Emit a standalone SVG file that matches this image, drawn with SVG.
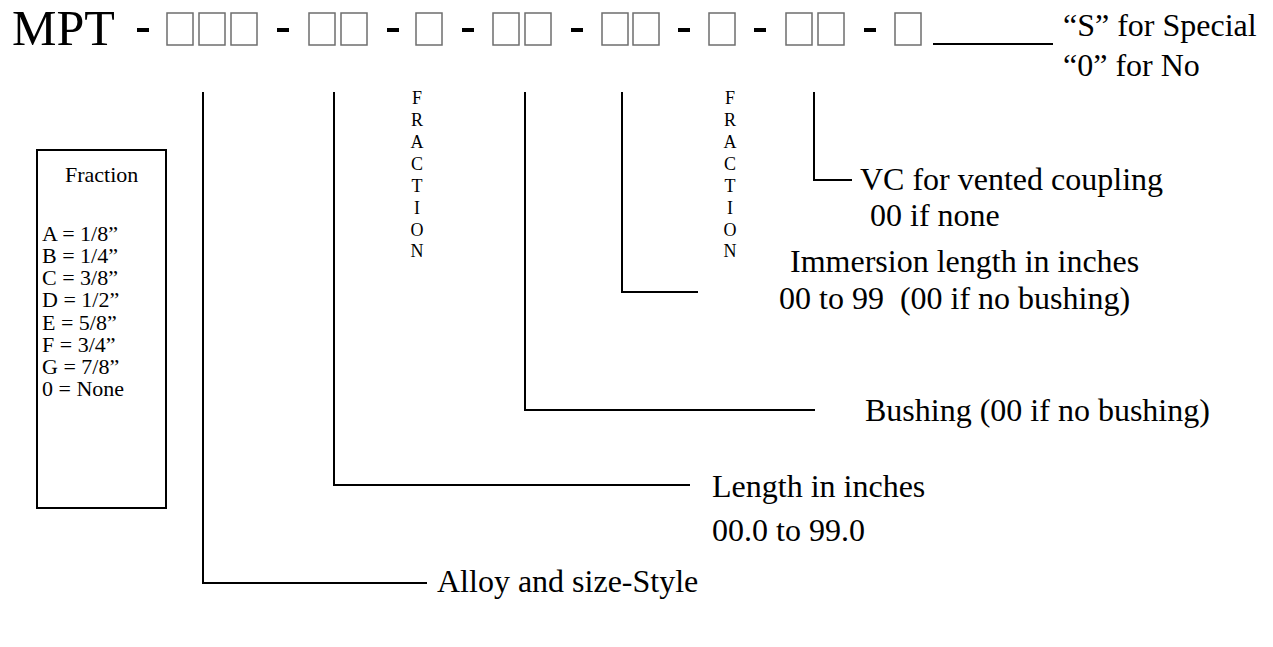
<svg xmlns="http://www.w3.org/2000/svg" width="1273" height="647" viewBox="0 0 1273 647">
<style>
text{font-family:"Liberation Serif","Times New Roman",serif;fill:#000}
.lbl{font-size:32px}
.box{fill:none;stroke:#6e6e6e;stroke-width:1.5}
.dash{fill:#000}
.conn{fill:none;stroke:#000;stroke-width:2}
.vt{font-size:18px;text-anchor:middle}
.fr{font-size:22px}
</style>
<rect width="1273" height="647" fill="#fff"/>
<g id="code">
<text x="12" y="45" font-size="50">MPT</text>
<rect class="dash" x="137" y="28" width="12" height="4"/>
<rect class="box" x="167" y="13" width="26" height="32"/>
<rect class="box" x="199" y="13" width="26" height="32"/>
<rect class="box" x="231" y="13" width="26" height="32"/>
<rect class="dash" x="277" y="28" width="12" height="4"/>
<rect class="box" x="309" y="13" width="26" height="32"/>
<rect class="box" x="341" y="13" width="26" height="32"/>
<rect class="dash" x="387" y="28" width="12" height="4"/>
<rect class="box" x="416" y="13" width="26" height="32"/>
<rect class="dash" x="462" y="28" width="12" height="4"/>
<rect class="box" x="493" y="13" width="26" height="32"/>
<rect class="box" x="525" y="13" width="26" height="32"/>
<rect class="dash" x="571" y="28" width="12" height="4"/>
<rect class="box" x="602" y="13" width="26" height="32"/>
<rect class="box" x="633" y="13" width="26" height="32"/>
<rect class="dash" x="678" y="28" width="12" height="4"/>
<rect class="box" x="709" y="13" width="26" height="32"/>
<rect class="dash" x="754" y="28" width="12" height="4"/>
<rect class="box" x="786" y="13" width="26" height="32"/>
<rect class="box" x="818" y="13" width="26" height="32"/>
<rect class="dash" x="864" y="28" width="12" height="4"/>
<rect class="box" x="895" y="13" width="26" height="32"/>
</g>
<g id="connectors">
<line class="conn" x1="933" y1="44" x2="1053" y2="44"/>
<polyline class="conn" points="203,92 203,583 427,583"/>
<polyline class="conn" points="334,92 334,485 690,485"/>
<polyline class="conn" points="525,92 525,410 815,410"/>
<polyline class="conn" points="622,92 622,292 698,292"/>
<polyline class="conn" points="814,92 814,180 852,180"/>
</g>
<g id="special">
<text class="lbl" x="1063" y="36">“S” for Special</text>
<text class="lbl" x="1063" y="76">“0” for No</text>
</g>
<g id="fraction1">
<text class="vt"><tspan x="417" y="104">F</tspan><tspan x="417" y="126">R</tspan><tspan x="417" y="148">A</tspan><tspan x="417" y="170">C</tspan><tspan x="417" y="192">T</tspan><tspan x="417" y="214">I</tspan><tspan x="417" y="236">O</tspan><tspan x="417" y="257">N</tspan></text>
</g>
<g id="fraction2">
<text class="vt"><tspan x="730" y="104">F</tspan><tspan x="730" y="126">R</tspan><tspan x="730" y="148">A</tspan><tspan x="730" y="170">C</tspan><tspan x="730" y="192">T</tspan><tspan x="730" y="214">I</tspan><tspan x="730" y="236">O</tspan><tspan x="730" y="257">N</tspan></text>
</g>
<g id="vc">
<text class="lbl" x="860" y="190">VC for vented coupling</text>
<text class="lbl" x="870" y="226">00 if none</text>
</g>
<g id="immersion">
<text class="lbl" x="790" y="272">Immersion length in inches</text>
<text class="lbl" x="779" y="309" xml:space="preserve">00 to 99  (00 if no bushing)</text>
</g>
<g id="bushing">
<text class="lbl" x="865" y="421">Bushing (00 if no bushing)</text>
</g>
<g id="length">
<text class="lbl" x="712" y="497">Length in inches</text>
<text class="lbl" x="712" y="541">00.0 to 99.0</text>
</g>
<g id="alloy">
<text class="lbl" x="437" y="592">Alloy and size-Style</text>
</g>
<g id="legend">
<rect x="37" y="150" width="129" height="358" fill="none" stroke="#000" stroke-width="2"/>
<text class="fr" x="65" y="182">Fraction</text>
<text class="fr" x="42" y="241">A = 1/8”</text>
<text class="fr" x="42" y="263">B = 1/4”</text>
<text class="fr" x="42" y="285">C = 3/8”</text>
<text class="fr" x="42" y="307">D = 1/2”</text>
<text class="fr" x="42" y="330">E = 5/8”</text>
<text class="fr" x="42" y="352">F = 3/4”</text>
<text class="fr" x="42" y="374">G = 7/8”</text>
<text class="fr" x="42" y="396">0 = None</text>
</g>
</svg>
